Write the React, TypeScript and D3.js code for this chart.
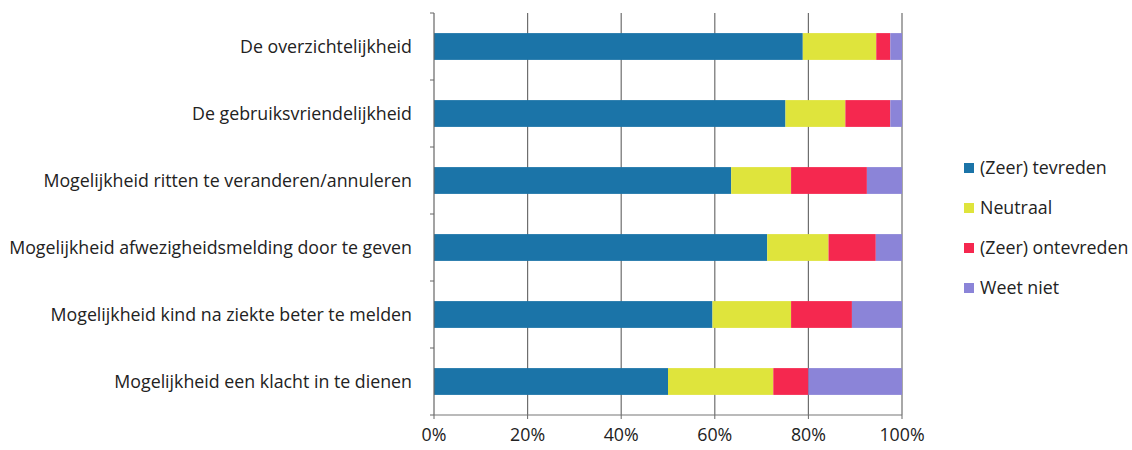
import React from "react";
import * as d3 from "d3";

const categories = [
  "De overzichtelijkheid",
  "De gebruiksvriendelijkheid",
  "Mogelijkheid ritten te veranderen/annuleren",
  "Mogelijkheid afwezigheidsmelding door te geven",
  "Mogelijkheid kind na ziekte beter te melden",
  "Mogelijkheid een klacht in te dienen",
];
const seriesNames = ["(Zeer) tevreden", "Neutraal", "(Zeer) ontevreden", "Weet niet"];
const tevreden = [78.8, 75.1, 63.5, 71.2, 59.5, 50.0];
const neutraal = [15.7, 12.8, 12.8, 13.1, 16.8, 22.5];
const ontevreden = [3.0, 9.6, 16.2, 10.1, 13.0, 7.5];
const weetNiet = [2.5, 2.5, 7.5, 5.6, 10.7, 20.0];
const tickValues = [0, 20, 40, 60, 80, 100];
const colors = ["#1b74a8", "#dfe43c", "#f5284f", "#8b84d8"];

const W = 1132;
const H = 450;
const margin = { left: 434, right: 230, top: 13, bottom: 35 };
const FONT = "'Open Sans', sans-serif";
const FS = 17.8;

export default function App() {
  const x = d3.scaleLinear().domain([0, 100]).range([margin.left, W - margin.right]);
  const y = d3
    .scaleBand<string>()
    .domain(categories)
    .range([margin.top, H - margin.bottom])
    .paddingInner(0.6)
    .paddingOuter(0.3);
  const seriesData = [tevreden, neutraal, ontevreden, weetNiet];
  const stackInput = categories.map((c, i) => {
    const o: any = { cat: c };
    seriesNames.forEach((s, k) => (o[s] = seriesData[k][i]));
    return o;
  });
  const stacked = d3.stack<any>().keys(seriesNames)(stackInput);
  const y0 = margin.top;
  const y1 = H - margin.bottom;
  const catTicks = d3.range(categories.length + 1).map((i) => y0 + ((y1 - y0) * i) / categories.length);

  return (
    <svg width={W} height={H} style={{ display: "block", position: "absolute", left: 0, top: 0 }}>
      <rect x={0} y={0} width={W} height={H} fill="#ffffff" />
      {tickValues.slice(1).map((t) => (
        <line key={t} x1={x(t)} x2={x(t)} y1={y0} y2={y1} stroke="#6e6e6e" strokeWidth={1.2} />
      ))}
      {stacked.map((layer, k) => (
        <g key={layer.key} fill={colors[k]}>
          {layer.map((d, i) => (
            <rect
              key={i}
              x={x(d[0])}
              width={x(d[1]) - x(d[0])}
              y={y(categories[i]) as number}
              height={y.bandwidth()}
            />
          ))}
        </g>
      ))}
      <line x1={x(0)} x2={x(0)} y1={y0} y2={y1} stroke="#666" strokeWidth={1.2} />
      <line x1={x(0)} x2={x(100)} y1={y1} y2={y1} stroke="#777" strokeWidth={1.2} />
      {catTicks.map((t, i) => (
        <line key={i} x1={x(0) - 4} x2={x(0)} y1={t} y2={t} stroke="#666" strokeWidth={1} />
      ))}
      {tickValues.map((t) => (
        <line key={"b" + t} x1={x(t)} x2={x(t)} y1={y1} y2={y1 + 4} stroke="#666" strokeWidth={1} />
      ))}
      {tickValues.map((t) => (
        <text
          key={"l" + t}
          x={x(t)}
          y={y1 + 26}
          textAnchor="middle"
          fontFamily={FONT}
          fontSize={FS}
          fill="#222"
        >
          {t + "%"}
        </text>
      ))}
      {categories.map((c) => (
        <text
          key={c}
          x={x(0) - 22}
          y={(y(c) as number) + y.bandwidth() / 2}
          dy="0.35em"
          textAnchor="end"
          fontFamily={FONT}
          fontSize={FS}
          fill="#222"
        >
          {c}
        </text>
      ))}
      {seriesNames.map((s, k) => (
        <g key={s} transform={`translate(964, ${168 + k * 40})`}>
          <rect x={0} y={-5} width={10} height={10} fill={colors[k]} />
          <text x={16} y={0} dy="0.35em" fontFamily={FONT} fontSize={FS} fill="#222">
            {s}
          </text>
        </g>
      ))}
    </svg>
  );
}
